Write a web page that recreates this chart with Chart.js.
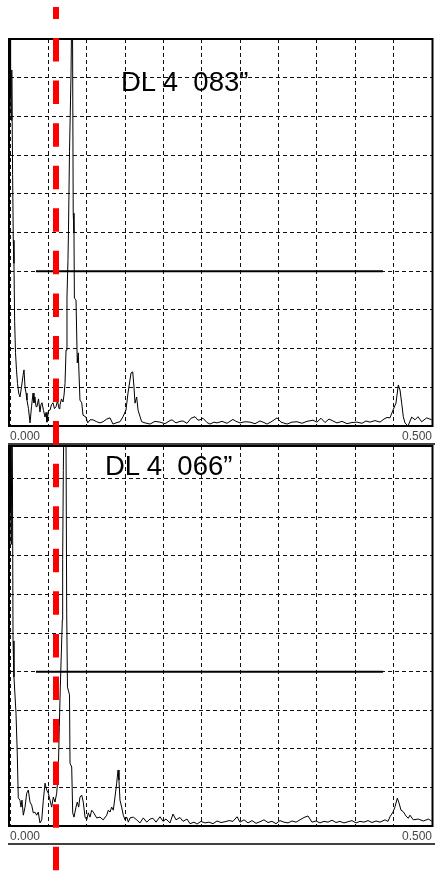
<!DOCTYPE html>
<html>
<head>
<meta charset="utf-8">
<script src="https://cdn.jsdelivr.net/npm/chart.js@4.4.0/dist/chart.umd.min.js"></script>
<style>
  html, body { margin: 0; padding: 0; background: #fff; }
  body { width: 435px; height: 871px; position: relative; overflow: hidden; }
  canvas { position: absolute; left: 0; }
  #c1 { top: 0; }
  #c2 { top: 445px; }
  #overlay { top: 0; pointer-events: none; z-index: 5; }
  .title { position: absolute; font-family: 'Liberation Sans', Arial, sans-serif; font-size: 27.5px; line-height: 27.5px; color: #000; white-space: pre; z-index: 3; }
  #t1 { left: 121px; top: 68px; }
  #t2 { left: 105px; top: 452px; }
</style>
</head>
<body>
<canvas id="c1" width="435" height="445"></canvas>
<canvas id="c2" width="435" height="426"></canvas>
<div id="t1" class="title"></div>
<div id="t2" class="title"></div>
<canvas id="overlay" width="435" height="871"></canvas>
<script>
// ---------- data ----------
const titles = ['DL 4  083\u201D', 'DL 4  066\u201D'];

const xTickValues = [0, 0.0455, 0.0909, 0.1364, 0.1818, 0.2273, 0.2727, 0.3182, 0.3636, 0.4091, 0.4545, 0.5];
const xTickLabels = ['0.000', '', '', '', '', '', '', '', '', '', '', '0.500'];

const yMaxTop = 10;
const yMaxBottom = 9.85;

const thresholdFreq = [0.0308, 0.4419];
const thresholdLevel = 4;

const markerFreq = 0.0545;

const freqTop = [0.0000,0.0007,0.0014,0.0021,0.0031,0.0039,0.0047,0.0055,0.0065,0.0077,0.0089,0.0103,0.0118,0.0136,0.0154,0.0166,0.0178,0.0190,0.0201,0.0219,0.0237,0.0255,0.0273,0.0284,0.0296,0.0308,0.0320,0.0338,0.0355,0.0367,0.0379,0.0397,0.0415,0.0427,0.0438,0.0456,0.0474,0.0492,0.0509,0.0527,0.0545,0.0563,0.0581,0.0592,0.0610,0.0628,0.0640,0.0652,0.0664,0.0675,0.0687,0.0693,0.0705,0.0717,0.0723,0.0738,0.0749,0.0758,0.0763,0.0782,0.0797,0.0809,0.0829,0.0850,0.0865,0.0900,0.0921,0.0948,0.0983,0.1027,0.1066,0.1102,0.1146,0.1185,0.1220,0.1268,0.1303,0.1339,0.1374,0.1398,0.1434,0.1454,0.1469,0.1481,0.1501,0.1517,0.1528,0.1560,0.1600,
  0.1659,0.1718,0.1777,0.1836,0.1896,0.1919,0.1967,0.2014,0.2050,0.2097,0.2145,0.2192,0.2227,0.2251,0.2287,0.2334,0.2370,0.2417,0.2453,0.2512,0.2571,0.2642,0.2678,0.2725,0.2784,0.2844,0.2903,0.2962,0.3009,0.3045,0.3104,0.3164,0.3211,0.3282,0.3341,0.3401,0.3460,0.3519,0.3590,0.3637,0.3685,0.3732,0.3780,0.3827,0.3874,0.3934,0.3993,0.4052,0.4111,0.4171,0.4218,0.4265,0.4325,0.4384,0.4431,0.4467,0.4502,0.4538,0.4573,0.4601,0.4621,0.4641,0.4660,0.4680,0.4716,0.4759,0.4799,0.4834,0.4878,0.4937,0.4996];
const ampTop = [12,8.5,7.9,9.2,6.5,4.8,4.2,2.7,1.9,1.45,1.1,0.85,0.75,1.0,1.3,1.45,1.0,0.85,0.67,0.45,0.08,0.5,0.85,0.6,0.75,0.5,0.5,0.7,0.36,0.55,0.6,0.4,0.23,0.35,0.1,0.4,0.41,0.55,0.6,0.45,0.5,0.65,0.45,0.54,0.7,0.62,0.8,1.1,1.96,3.33,4.3,5.06,7.1,8.4,9.1,12,5.5,5.0,3.3,3.26,1.63,1.89,0.67,0.6,0.28,0.23,0.08,0.16,0.16,0.11,0.08,0.11,0.18,0.21,0.05,0.09,0.11,0.24,0.41,0.85,1.37,1.4,1.01,0.59,0.75,0.41,0.41,0.11,0.08,
  0.05,0.12,0.1,0.06,0.14,0.16,0.08,0.12,0.13,0.07,0.2,0.24,0.15,0.16,0.2,0.09,0.05,0.1,0.08,0.12,0.07,0.17,0.12,0.08,0.11,0.1,0.06,0.13,0.09,0.05,0.12,0.21,0.1,0.05,0.1,0.11,0.07,0.12,0.15,0.1,0.2,0.09,0.18,0.13,0.08,0.12,0.06,0.09,0.1,0.07,0.13,0.1,0.14,0.1,0.18,0.22,0.21,0.41,0.59,1.06,0.93,0.59,0.24,0.08,0.0,0.23,0.16,0.24,0.11,0.21,0.16];

const freqBottom = [0.0000,0.0008,0.0015,0.0024,0.0036,0.0047,0.0071,0.0086,0.0098,0.0118,0.0130,0.0142,0.0158,0.0178,0.0198,0.0217,0.0237,0.0257,0.0276,0.0296,0.0316,0.0335,0.0355,0.0376,0.0395,0.0415,0.0435,0.0454,0.0474,0.0494,0.0513,0.0533,0.0553,0.0572,0.0584,0.0596,0.0608,0.0620,0.0624,0.0632,0.0646,0.0660,0.0672,0.0681,0.0705,0.0711,0.0731,0.0743,0.0758,0.0782,0.0797,0.0814,0.0829,0.0850,0.0868,0.0889,0.0909,0.0928,0.0948,0.0968,0.0987,0.1027,0.1066,0.1105,0.1146,0.1165,0.1185,0.1205,0.1224,0.1244,0.1264,0.1280,0.1291,0.1303,0.1323,0.1342,0.1363,0.1383,0.1402,0.1422,0.1461,0.1501,0.1540,0.1579,0.1620,0.1659,
  0.1694,0.1730,0.1777,0.1813,0.1848,0.1896,0.1931,0.1967,0.2014,0.2050,0.2097,0.2133,0.2180,0.2216,0.2263,0.2310,0.2358,0.2405,0.2453,0.2500,0.2547,0.2595,0.2642,0.2690,0.2725,0.2773,0.2820,0.2867,0.2915,0.2962,0.3009,0.3057,0.3104,0.3152,0.3199,0.3246,0.3294,0.3341,0.3389,0.3436,0.3483,0.3531,0.3578,0.3626,0.3673,0.3720,0.3768,0.3815,0.3863,0.3910,0.3957,0.4005,0.4052,0.4100,0.4147,0.4194,0.4242,0.4289,0.4336,0.4384,0.4443,0.4479,0.4502,0.4538,0.4562,0.4589,0.4609,0.4633,0.4660,0.4692,0.4719,0.4739,0.4778,0.4838,0.4897,0.4956,0.4996];
const ampBottom = [12,8.2,7.3,12,4.8,3.86,2.93,1.89,0.73,0.67,0.49,0.67,0.28,0.49,0.85,0.93,0.62,0.54,0.34,0.36,0.28,0.36,0.08,0.16,0.67,1.11,0.93,0.85,0.67,0.49,0.75,0.62,0.85,1.37,2.56,3.6,4.48,5.34,6.9,9.22,12,12,5.5,3.6,3.4,1.63,1.53,0.34,0.23,0.49,0.62,0.49,0.75,0.8,0.62,0.23,0.16,0.34,0.23,0.41,0.36,0.21,0.23,0.16,0.28,0.41,0.36,0.49,0.41,0.75,1.11,1.45,1.19,0.67,0.49,0.28,0.16,0.23,0.1,0.21,0.23,0.16,0.08,0.21,0.1,0.18,
  0.2,0.1,0.24,0.12,0.18,0.08,0.31,0.16,0.22,0.12,0.18,0.06,0.1,0.05,0.12,0.08,0.1,0.06,0.13,0.09,0.11,0.14,0.12,0.24,0.1,0.16,0.08,0.14,0.07,0.11,0.16,0.09,0.12,0.06,0.14,0.1,0.08,0.13,0.1,0.16,0.22,0.26,0.1,0.13,0.08,0.12,0.1,0.15,0.09,0.12,0.08,0.11,0.14,0.08,0.12,0.1,0.14,0.09,0.13,0.1,0.16,0.12,0.24,0.36,0.5,0.72,0.6,0.41,0.37,0.26,0.2,0.28,0.16,0.18,0.13,0.18,0.13];

// ---------- rendering ----------
const FONT = "'Liberation Sans', Arial, sans-serif";

const framePlugin = {
  id: 'frame',
  afterDraw(chart, args, opts) {
    const { ctx, chartArea: a } = chart;
    ctx.save();
    ctx.strokeStyle = '#000';
    ctx.lineWidth = 2;
    ctx.strokeRect(a.left - 1, a.top, a.right - a.left + 1.5, a.bottom - a.top);
    // strip bottom line
    ctx.lineWidth = 1.5;
    ctx.beginPath();
    ctx.moveTo(a.left - 2, opts.stripBottom);
    ctx.lineTo(chart.width, opts.stripBottom);
    ctx.stroke();
    ctx.restore();
  }
};

function makeChart(id, freqs, amps, yMax, pad, axisH, stripBottom) {
  const spectrum = freqs.map((f, i) => ({ x: f, y: amps[i] }));
  const threshold = thresholdFreq.map(f => ({ x: f, y: thresholdLevel }));
  return new Chart(document.getElementById(id), {
    type: 'line',
    data: {
      datasets: [
        { data: threshold, borderColor: '#000', borderWidth: 2, pointRadius: 0, order: 0 },
        { data: spectrum, borderColor: '#000', borderWidth: 1, pointRadius: 0, tension: 0, order: 1 }
      ]
    },
    options: {
      responsive: false,
      animation: false,
      events: [],
      layout: { padding: pad },
      plugins: { legend: { display: false }, tooltip: { enabled: false }, title: { display: false }, frame: { stripBottom } },
      scales: {
        x: {
          type: 'linear', min: 0, max: 0.5,
          afterBuildTicks: s => { s.ticks = xTickValues.map(v => ({ value: v })); },
          afterFit: s => { s.height = axisH; },
          grid: { color: '#111', lineWidth: 1, drawTicks: false },
          border: { display: false, dash: [4, 3] },
          ticks: {
            autoSkip: false, maxRotation: 0, align: 'inner', padding: 3,
            color: '#444', font: { family: FONT, size: 12 },
            callback: (v, i) => xTickLabels[i]
          }
        },
        y: {
          type: 'linear', min: 0, max: yMax,
          afterFit: s => { s.width = 0; },
          grid: { color: '#111', lineWidth: 1, drawTicks: false },
          border: { display: false, dash: [4, 3] },
          ticks: { display: false, stepSize: 1 }
        }
      }
    },
    plugins: [framePlugin]
  });
}

const chartTop = makeChart('c1', freqTop, ampTop, yMaxTop, { left: 10, right: 3, top: 39, bottom: 0 }, 19, 444);
const chartBottom = makeChart('c2', freqBottom, ampBottom, yMaxBottom, { left: 10, right: 3, top: 1, bottom: 27 }, 18, 399);

document.getElementById('t1').textContent = titles[0];
document.getElementById('t2').textContent = titles[1];

// red dashed marker across both panels, positioned by the chart's x scale
const ov = document.getElementById('overlay').getContext('2d');
const mx = chartTop.scales.x.getPixelForValue(markerFreq);
ov.strokeStyle = '#ff0000';
ov.lineWidth = 6;
ov.setLineDash([23.5, 19.06]);
ov.lineDashOffset = 11.5;
ov.beginPath();
ov.moveTo(mx, 7);
ov.lineTo(mx, 871);
ov.stroke();
</script>
</body>
</html>
